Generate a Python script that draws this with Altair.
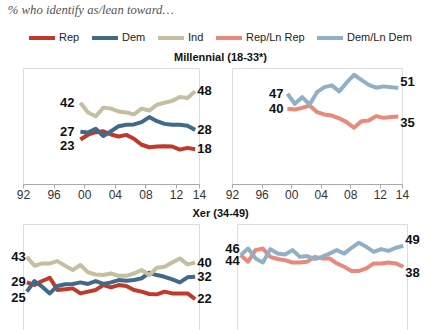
import altair as alt
import pandas as pd

# ---------------- data ----------------
series_names = ["Rep", "Dem", "Ind", "Rep/Ln Rep", "Dem/Ln Dem"]
series_colors = ["#C0392B", "#3F6A89", "#C4BFA0", "#EA897B", "#90B0C8"]

years_mil = list(range(1999, 2015))
years_xer = list(range(1992, 2015))

mil_rep = [23, 25.5, 26.8, 27.3, 25.6, 24.6, 25.4, 23.4, 20.3, 19, 19.4, 19.5, 19.4, 17.8, 18.7, 18]
mil_dem = [27, 26.6, 28.6, 24.8, 27.3, 29.9, 30.6, 30.8, 32, 34.6, 32.5, 31.1, 30.6, 30.6, 30.1, 28]
mil_ind = [42, 37, 35, 39.5, 39, 37.5, 37, 36, 39, 38, 41, 42, 43, 45, 44.5, 48]
mil_repln = [38.9, 38.5, 39.4, 40.6, 37.2, 36, 35.4, 34, 32, 29.1, 32.5, 32.8, 35.1, 34.2, 34.6, 34.9]
mil_demln = [46.7, 41.5, 44.9, 41.1, 47.5, 50.1, 51, 47.9, 52.4, 56.5, 53.9, 51.3, 49.8, 50.5, 50.1, 49.6]

xer_rep = [29.8, 28.5, 30.5, 32.2, 25.9, 26.2, 26.7, 24.1, 25, 25.9, 28.4, 27.2, 28.4, 27.9,
           25.9, 25, 23.8, 23.6, 25, 24.1, 24.1, 24.1, 21.2]
xer_dem = [25, 30.5, 27.6, 24.1, 27.9, 28.8, 29, 29.8, 29, 30.5, 29, 29.8, 31, 30.7,
           31, 31.9, 34.8, 33.6, 32.7, 31.3, 29.8, 32.4, 32.7]
xer_ind = [43, 38.4, 39.6, 39.6, 40.8, 38.4, 36.2, 38.8, 35, 33.9, 33.6, 34.4, 33.2, 33.2,
           34.4, 36.2, 33.6, 37.4, 37.9, 40.1, 42.2, 39.1, 40]
xer_repln = [43.9, 40.5, 46.5, 47.3, 43, 41.9, 41.3, 40.1, 40.1, 40.5, 43, 42.2, 42.2, 39.6,
             37.9, 35.7, 35.7, 37, 39.6, 39.6, 40.1, 39.6, 37.9]
xer_demln = [43.9, 47.3, 42.2, 40.1, 47, 44.7, 44.2, 46.5, 43, 43.4, 41.9, 43, 44.7, 46.5,
             44.7, 47.7, 50.3, 48.2, 45.6, 47, 46.1, 47.7, 48.7]

# start / end label texts
label_texts = {
    ("Millennial", "left", "Ind"): ("42", "48"),
    ("Millennial", "left", "Dem"): ("27", "28"),
    ("Millennial", "left", "Rep"): ("23", "18"),
    ("Millennial", "right", "Dem/Ln Dem"): ("47", "51"),
    ("Millennial", "right", "Rep/Ln Rep"): ("40", "35"),
    ("Xer", "left", "Ind"): ("43", "40"),
    ("Xer", "left", "Rep"): ("29", "22"),
    ("Xer", "left", "Dem"): ("25", "32"),
    ("Xer", "right", "Dem/Ln Dem"): ("46", "49"),
    ("Xer", "right", "Rep/Ln Rep"): ("44", "38"),
}

tick_values = [1992, 1996, 2000, 2004, 2008, 2012, 2015]

# ---------------- tables ----------------
series_data = [
    ("Millennial", "left", "Rep", years_mil, mil_rep),
    ("Millennial", "left", "Dem", years_mil, mil_dem),
    ("Millennial", "left", "Ind", years_mil, mil_ind),
    ("Millennial", "right", "Rep/Ln Rep", years_mil, mil_repln),
    ("Millennial", "right", "Dem/Ln Dem", years_mil, mil_demln),
    ("Xer", "left", "Rep", years_xer, xer_rep),
    ("Xer", "left", "Dem", years_xer, xer_dem),
    ("Xer", "left", "Ind", years_xer, xer_ind),
    ("Xer", "right", "Rep/Ln Rep", years_xer, xer_repln),
    ("Xer", "right", "Dem/Ln Dem", years_xer, xer_demln),
]

up = {("Millennial", "right", "Dem/Ln Dem", "end"), ("Xer", "right", "Dem/Ln Dem", "start"),
      ("Xer", "right", "Dem/Ln Dem", "end")}
down = {("Millennial", "left", "Rep", "start"), ("Millennial", "right", "Rep/Ln Rep", "end"),
        ("Xer", "left", "Dem", "start"), ("Xer", "right", "Rep/Ln Rep", "start"),
        ("Xer", "right", "Rep/Ln Rep", "end")}

rows, lrows = [], []
for gen, side, s, yrs, vals in series_data:
    for yr, v in zip(yrs, vals):
        rows.append(dict(gen=gen, side=side, series=s, x=yr + 0.5, value=v))
    st, en = label_texts[(gen, side, s)]
    for which, yr, v, t in (("start", yrs[0], vals[0], st), ("end", yrs[-1], vals[-1], en)):
        key = (gen, side, s, which)
        nud = "up" if key in up else ("down" if key in down else "mid")
        lrows.append(dict(gen=gen, side=side, series=s, which=which, nudge=nud,
                          x=yr + 0.5, value=v, text=t))
df = pd.DataFrame(rows)
ldf = pd.DataFrame(lrows)

FONT = "Arial"
cscale = alt.Scale(domain=series_names, range=series_colors)
legend = alt.Legend(
    orient="none", legendX=4, legendY=-45, direction="horizontal", title=None,
    symbolType="stroke", symbolSize=676, symbolStrokeWidth=4,
    labelFont=FONT, labelFontSize=11, labelColor="#222", labelOffset=2,
    columnPadding=4, gridAlign="none",
)


def panel(gen, side, width, start_dx):
    d = df[(df.gen == gen) & (df.side == side)]
    lab = ldf[(ldf.gen == gen) & (ldf.side == side)]
    X = alt.X("x:Q", title=None,
              scale=alt.Scale(domain=[1992, 2015], nice=False, zero=False),
              axis=alt.Axis(values=tick_values,
                            labelExpr="datum.value == 2015 ? '14' : substring(toString(datum.value), 2)",
                            grid=False, domainColor="#aaa", tickColor="#aaa", tickSize=4,
                            labelFont=FONT, labelFontSize=12, labelColor="#333",
                            labelPadding=1, labelFlush=False))
    Y = alt.Y("value:Q", scale=alt.Scale(domain=[0, 60], nice=False), axis=None)
    lines = alt.Chart(d).mark_line(strokeWidth=4, strokeJoin="round").encode(
        x=X, y=Y,
        color=alt.Color("series:N", scale=cscale, legend=legend),
        detail="series:N",
    )
    layers = [lines]
    for which, align, dx in (("start", "right", start_dx), ("end", "left", 2)):
        for nud, dy in (("mid", 0), ("up", -6), ("down", 6)):
            sub = lab[(lab.which == which) & (lab.nudge == nud)]
            if len(sub) == 0:
                continue
            layers.append(
                alt.Chart(sub).mark_text(align=align, baseline="middle", dx=dx, dy=dy,
                                         font=FONT, fontSize=13, fontWeight="bold",
                                         color="#111").encode(x=X, y=Y, text="text:N")
            )
    return alt.layer(*layers).properties(width=width, height=116)


def row(gen, title, dxl, dxr):
    return alt.hconcat(
        panel(gen, "left", 176, dxl),
        panel(gen, "right", 170, dxr),
        spacing=11,
        title=alt.Title(title, anchor="middle", font=FONT, fontSize=11, fontWeight="bold",
                        color="#111", offset=5, dx=5),
    ).resolve_scale(x="independent", y="independent", color="shared")


chart = alt.vconcat(
    row("Millennial", "Millennial (18-33*)", -6, -4),
    row("Xer", "Xer (34-49)", -1, -1),
    spacing=6,
    title=alt.Title("% who identify as/lean toward…", anchor="start", font="Liberation Serif",
                    fontStyle="italic", fontWeight="normal", fontSize=12.7, color="#555",
                    offset=6, dx=-3),
).resolve_scale(color="shared").configure_view(stroke=None).configure(
    padding={"left": 7, "top": 4, "right": 5, "bottom": 5}
)

chart.save("out.html", embed_options={"renderer": "svg", "actions": False})
